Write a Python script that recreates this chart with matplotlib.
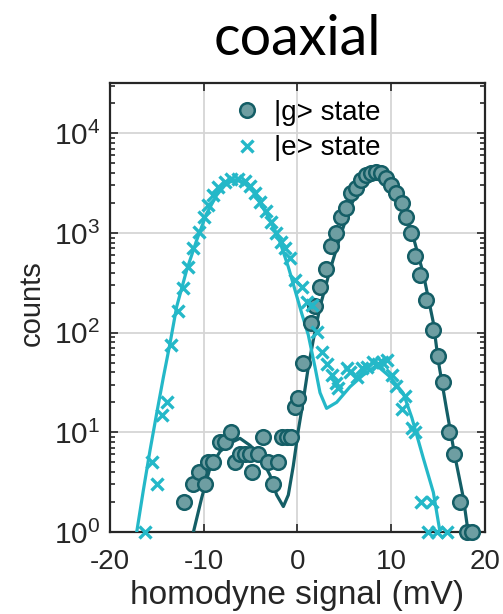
import numpy as np
import matplotlib
matplotlib.use("Agg")
import matplotlib.pyplot as plt
from matplotlib.ticker import LogLocator, NullFormatter

plt.rcParams["font.family"] = ["Liberation Sans", "DejaVu Sans"]
plt.rcParams["mathtext.fontset"] = "custom"
plt.rcParams["mathtext.rm"] = "Liberation Sans"
plt.rcParams["axes.unicode_minus"] = False

# histogram counts, |g> prepared state
g_x = [-12.1, -11.1, -10.5, -9.9, -9.5, -9.0, -8.3, -7.75, -7.1, -6.7, -6.15, -5.6,
       -5.05, -4.85, -4.2, -3.7, -3.15, -2.6, -2.05, -1.6, -1.1, -0.7,
       -0.3, 0.1, 0.6, 1.4, 1.9, 2.4, 3.05, 3.55, 4.1, 4.65, 5.15, 5.7, 6.25, 6.8,
       7.3, 7.85, 8.35, 8.9, 9.45, 10.0, 10.55, 11.1, 11.6, 12.1, 12.5, 13.1, 13.7,
       14.45, 14.95, 15.5, 16.2, 16.65, 17.3, 18.1, 18.6]
g_counts = [2, 3, 4, 3, 5, 5, 8, 8, 10, 5, 6, 6,
            6, 4, 6, 9, 5, 3, 5, 9, 9, 9,
            18, 22, 50, 124, 185, 290, 440, 740, 990, 1450, 1800, 2500, 2850, 3400,
            3800, 4000, 4100, 4000, 3550, 3050, 2500, 2000, 1450, 1000, 590, 380, 213,
            106, 58, 32, 10, 6, 2, 1, 1]

# histogram counts, |e> prepared state
e_x = [-16.3, -15.55, -15.0, -14.5, -13.95, -13.45, -12.8, -12.25, -11.65, -11.1,
       -10.55, -9.95, -9.5, -9.0, -8.45, -7.75, -7.05, -6.35, -5.65, -5.05, -4.5,
       -3.95, -3.4, -2.85, -2.3, -1.8, -1.3, -0.8, -0.25, 0.5, 1.0, 1.5, 2.05, 2.6,
       3.2, 3.65, 4.1, 4.35, 5.25, 5.6, 6.3, 6.85, 7.4, 8.1, 8.6, 9.0, 9.5, 10.05,
       10.5, 11.1, 11.5, 12.2, 12.55, 13.2, 13.9, 14.3, 14.9, 15.9]
e_counts = [1, 5, 3, 15, 20, 75, 165, 280, 460, 700,
            1030, 1450, 1900, 2400, 2900, 3260, 3450, 3470, 3300, 2950, 2500,
            2050, 1650, 1300, 1000, 820, 700, 560, 340, 290, 205, 190, 102, 64,
            49, 38, 31, 28, 44, 40, 36, 44, 45, 51, 48, 51, 53, 38,
            29, 17, 23, 11, 10, 2, 1, 2, 1, 1]

# fitted distributions
g_fit_x = [-11.1, -10.22, -9.33, -8.27, -7.2, -6.13, -5.07, -4.0, -2.93, -2.22, -1.51,
           -0.98, -0.45, 0.09, 0.62, 1.15, 1.69, 2.4, 3.47, 4.53, 5.6, 6.67, 7.73,
           8.45, 9.33, 10.22, 11.29, 12.35, 13.42, 14.49, 15.02, 15.9, 16.8, 17.69, 18.2]
g_fit_y = [1, 2.2, 4.4, 6.4, 7.8, 8.7, 7.4, 5.9, 3.7, 2.35, 1.8,
           2.35, 4.6, 10.5, 21, 45, 85, 182, 425, 910, 1820, 2900, 3650,
           3800, 3530, 2800, 1820, 910, 390, 126, 52, 17, 5.7, 2.2, 1]

e_fit_x = [-17.15, -16.45, -15.73, -15.02, -14.3, -13.6, -12.89, -11.82, -10.75, -9.69,
           -8.62, -7.55, -6.67, -5.78, -4.71, -4.18, -3.11, -2.05, -0.98, -0.27, 0.45,
           1.15, 1.87, 2.4, 3.1, 4.18, 5.6, 7.0, 8.45, 9.87, 11.29, 12.2, 13.42, 14.49, 15.2]
e_fit_y = [1, 2.6, 6.6, 15.5, 36, 78, 182, 425, 850, 1570,
           2400, 3160, 3390, 3250, 2580, 2140, 1450, 910, 457, 268, 156,
           95, 45, 25, 17.4, 20, 28.6, 37.5, 47, 36, 24.6, 14, 5.5, 2.5, 1]

G_COL = "#145e66"
G_FACE = "#6e9ea2"
E_COL = "#24b8c8"
INK = "#262626"

fig = plt.figure(figsize=(5.03, 6.14), dpi=100)
ax = fig.add_axes([0.2187, 0.1336, 0.7455, 0.7312])

ax.plot(g_fit_x, g_fit_y, color=G_COL, lw=2.3, zorder=3)
ax.plot(e_fit_x, e_fit_y, color=E_COL, lw=2.3, zorder=3)
ax.plot(g_x, g_counts, ls="none", marker="o", ms=10.5, mfc=G_FACE, mec=G_COL,
        mew=1.8, zorder=4, label="|g> state", clip_on=False)
ax.plot(e_x, e_counts, ls="none", marker="x", ms=8.5, color=E_COL, mew=2.4,
        zorder=4, label="|e> state", clip_on=False)

ax.set_yscale("log")
ax.set_xlim(-20, 20)
ax.set_ylim(1, 3.2e4)
ax.set_xticks([-20, -10, 0, 10, 20])
ax.yaxis.set_major_locator(LogLocator(base=10, numticks=10))
ax.yaxis.set_minor_locator(LogLocator(base=10, subs=np.arange(2, 10), numticks=10))
ax.yaxis.set_minor_formatter(NullFormatter())
ax.grid(True, which="major", color="#d5d5d5", lw=1.3)
ax.set_axisbelow(True)
ax.tick_params(which="both", direction="in", top=True, right=True,
               colors=INK, width=1.2)
ax.tick_params(which="major", length=6)
ax.tick_params(which="minor", length=3.5)
ax.tick_params(axis="x", which="major", pad=12, labelsize=20)
ax.tick_params(axis="y", which="major", pad=7, labelsize=21.5)
for s in ax.spines.values():
    s.set_color(INK)
    s.set_linewidth(1.6)

ax.set_xlabel("homodyne signal (mV)", fontsize=24, color=INK)
ax.xaxis.set_label_coords(0.5, -0.108)
ax.set_ylabel("counts", fontsize=21, color=INK)
ax.yaxis.set_label_coords(-0.172, 0.51)

ax.legend(loc="upper left", bbox_to_anchor=(0.285, 1.0), frameon=False,
          fontsize=20, handletextpad=0.45, labelspacing=0.35, borderaxespad=0.2,
          handlelength=1.0)

fig.text(0.592, 0.935, "coaxial", fontsize=40, ha="center", va="center",
         family=["Lato", "DejaVu Sans"])

fig.savefig("out.png", dpi=100)
